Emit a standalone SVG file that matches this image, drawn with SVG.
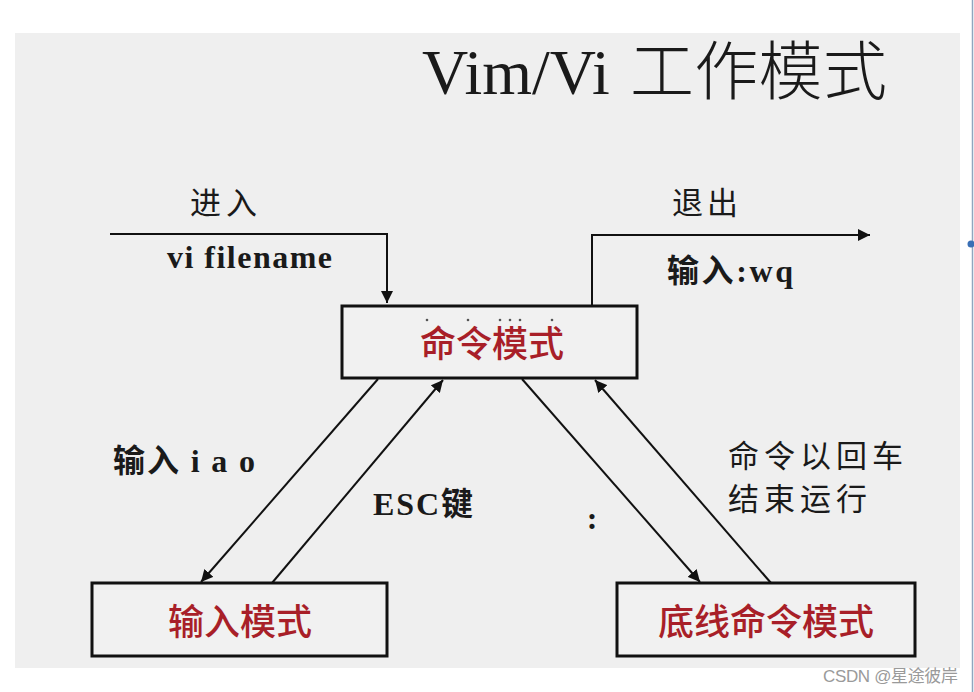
<svg xmlns="http://www.w3.org/2000/svg" width="974" height="692" viewBox="0 0 974 692">
  <defs>
    <style>
      .box { fill: #f1f1f1; stroke: #111; stroke-width: 3; }
      .conn { fill: none; stroke: #111; stroke-width: 2; }
      .red { font-family: "Noto Sans CJK SC", "Noto Sans", sans-serif; font-size: 36px; font-weight: 500; fill: #a81f28; text-anchor: middle; }
      .lbl { font-family: "Liberation Serif", "Noto Sans CJK SC", serif; font-size: 32px; font-weight: bold; fill: #1a1a1a; }
      .lblc { font-family: "Noto Sans CJK SC", sans-serif; font-size: 31px; fill: #1a1a1a; }
      .title { font-family: "Liberation Serif", "Noto Sans CJK SC", serif; font-size: 64px; fill: #1a1a1a; }
    </style>
    <marker id="arr" viewBox="0 0 10 10" refX="10" refY="5" markerWidth="12" markerHeight="12" markerUnits="userSpaceOnUse" orient="auto">
      <path d="M0,0 L10,5 L0,10 Z" fill="#111"/>
    </marker>
  </defs>

  <rect x="0" y="0" width="974" height="692" fill="#ffffff"/>
  <rect x="15" y="33" width="945" height="635" fill="#efefef"/>
  <line x1="972.5" y1="0" x2="972.5" y2="692" stroke="#8fa6bf" stroke-width="1.5"/>
  <circle cx="971" cy="244" r="3.5" fill="#3a6fb5"/>

  <g id="title">
    <text class="title" x="422" y="94">Vim/Vi <tspan font-family="Noto Sans CJK SC, sans-serif" font-weight="300" textLength="257" lengthAdjust="spacing" dx="4">工作模式</tspan></text>
  </g>

  <g id="connectors">
    <polyline class="conn" points="110,234 387,234 387,303" marker-end="url(#arr)"/>
    <polyline class="conn" points="592,306 592,235 870,235" marker-end="url(#arr)"/>
    <line class="conn" x1="378" y1="379" x2="201" y2="582" marker-end="url(#arr)"/>
    <line class="conn" x1="272" y1="583" x2="443" y2="380" marker-end="url(#arr)"/>
    <line class="conn" x1="522" y1="379" x2="700" y2="582" marker-end="url(#arr)"/>
    <line class="conn" x1="771" y1="583" x2="595" y2="380" marker-end="url(#arr)"/>
  </g>

  <g id="labels">
    <text class="lblc" x="190" y="214" textLength="67" lengthAdjust="spacing">进入</text>
    <text class="lbl" x="167" y="268" textLength="165" lengthAdjust="spacing">vi filename</text>
    <text class="lblc" x="672" y="214" textLength="66" lengthAdjust="spacing">退出</text>
    <text class="lbl" x="667" y="282" textLength="126" lengthAdjust="spacing"><tspan font-family="Noto Sans CJK SC, sans-serif" font-weight="bold">输入</tspan>:wq</text>
    <text class="lbl" x="113" y="472" textLength="142" lengthAdjust="spacing"><tspan font-family="Noto Sans CJK SC, sans-serif" font-weight="bold">输入</tspan> i a o</text>
    <text class="lbl" x="373" y="515" textLength="100" lengthAdjust="spacing">ESC<tspan font-family="Noto Sans CJK SC, sans-serif" font-weight="bold">键</tspan></text>
    <text class="lbl" x="592" y="529" text-anchor="middle">:</text>
    <text class="lblc" x="728" y="467" textLength="175" lengthAdjust="spacing">命令以回车</text>
    <text class="lblc" x="728" y="510" textLength="139" lengthAdjust="spacing">结束运行</text>
  </g>

  <g id="node-command">
    <rect class="box" x="342" y="306" width="295" height="72"/>
    <g fill="#555">
      <circle cx="427" cy="320" r="1.3"/>
      <circle cx="468" cy="320" r="1.3"/>
      <circle cx="500" cy="320" r="1.3"/>
      <circle cx="510" cy="320" r="1.3"/>
      <circle cx="520" cy="320" r="1.3"/>
      <circle cx="552" cy="320" r="1.3"/>
    </g>
    <text class="red" x="492" y="357">命令模式</text>
  </g>

  <g id="node-insert">
    <rect class="box" x="92" y="583" width="295" height="73"/>
    <text class="red" x="240" y="635">输入模式</text>
  </g>

  <g id="node-lastline">
    <rect class="box" x="617" y="583" width="298" height="73"/>
    <text class="red" x="766" y="635">底线命令模式</text>
  </g>

  <text x="823" y="682" font-family="Liberation Sans, Noto Sans CJK SC, sans-serif" font-size="17" fill="#9a9a9a" textLength="135" lengthAdjust="spacing">CSDN @星途彼岸</text>
</svg>
